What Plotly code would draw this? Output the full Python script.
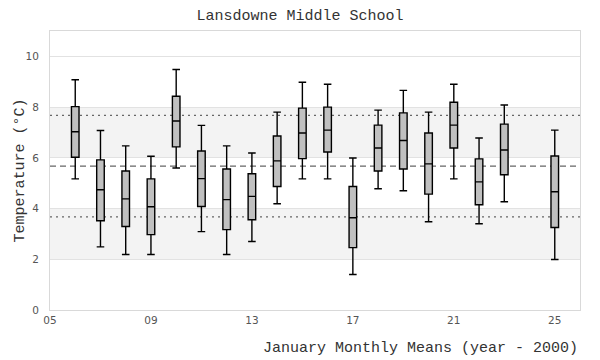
import plotly.graph_objects as go

years = [6, 7, 8, 9, 10, 11, 12, 13, 14, 15, 16, 17, 18, 19, 20, 21, 22, 23, 25]
upper = [9.08, 7.08, 6.47, 6.06, 9.48, 7.28, 6.47, 6.19, 7.80, 8.98, 8.90, 5.99, 7.88, 8.66, 7.80, 8.90, 6.78, 8.08, 7.09]
q3 = [8.02, 5.92, 5.48, 5.17, 8.43, 6.27, 5.56, 5.37, 6.86, 7.96, 8.00, 4.87, 7.29, 7.77, 6.98, 8.19, 5.96, 7.33, 6.07]
median = [7.03, 4.74, 4.38, 4.07, 7.45, 5.18, 4.35, 4.48, 5.88, 6.98, 7.09, 3.64, 6.39, 6.68, 5.76, 7.29, 5.05, 6.31, 4.66]
q1 = [6.02, 3.52, 3.29, 2.97, 6.43, 4.08, 3.17, 3.56, 4.87, 5.97, 6.23, 2.46, 5.48, 5.56, 4.57, 6.39, 4.15, 5.33, 3.25]
lower = [5.17, 2.49, 2.19, 2.19, 5.60, 3.09, 2.19, 2.70, 4.19, 5.17, 5.17, 1.40, 4.78, 4.70, 3.48, 5.17, 3.40, 4.27, 1.99]

overall_mean = 5.67
overall_std = 2.0
bands = [(2, 4), (6, 8)]

mono = "Liberation Mono"
sans = "DejaVu Sans"

fig = go.Figure()
fig.add_trace(go.Box(
    x=years, q1=q1, median=median, q3=q3,
    lowerfence=lower, upperfence=upper,
    boxpoints=False, width=0.3, whiskerwidth=1,
    fillcolor="#c0c0c0", line=dict(color="black", width=1.4),
    showlegend=False,
))

shapes = []
for lo, hi in bands:
    shapes.append(dict(type="rect", xref="paper", x0=0, x1=1, yref="y", y0=lo, y1=hi,
                       fillcolor="#f3f3f3", line=dict(width=0), layer="below"))
shapes.append(dict(type="line", xref="paper", x0=0, x1=1, yref="y",
                   y0=overall_mean, y1=overall_mean,
                   line=dict(color="#666666", width=1.3, dash="6px,4px"), layer="below"))
for s in (-1, 1):
    yv = overall_mean + s * overall_std
    shapes.append(dict(type="line", xref="paper", x0=0, x1=1, yref="y", y0=yv, y1=yv,
                       line=dict(color="#666666", width=1.3, dash="2px,4px"), layer="below"))

fig.update_layout(
    width=600, height=360,
    margin=dict(l=50, r=20, t=31, b=50),
    plot_bgcolor="white", paper_bgcolor="white",
    title=dict(text="Lansdowne Middle School", x=0.5, xanchor="center", y=1 - 15 / 360,
               yanchor="middle", font=dict(family=mono, size=15, color="#333333")),
    shapes=shapes,
    xaxis=dict(range=[5, 26], tick0=5, dtick=4, tickformat="02d", showgrid=False,
               zeroline=False, showline=True, mirror=True, linecolor="#d9d9d9", linewidth=1,
               ticks="", tickfont=dict(family=sans, size=10.5, color="#555555")),
    yaxis=dict(range=[0, 11], tickvals=[0, 2, 4, 6, 8, 10], showgrid=True, gridcolor="#e2e2e2",
               zeroline=False, showline=True, mirror=True, linecolor="#d9d9d9", linewidth=1,
               ticks="", ticklabelstandoff=8, tickfont=dict(family=sans, size=10.5, color="#555555")),
    annotations=[
        dict(text="Temperature (°C)", xref="paper", yref="paper", x=-30 / 530, y=0.5,
             xanchor="center", yanchor="middle", textangle=-90, showarrow=False,
             font=dict(family=mono, size=15, color="#333333")),
        dict(text="January Monthly Means (year - 2000)", xref="paper", yref="paper",
             x=1.0, y=-38 / 279, xanchor="right", yanchor="middle", showarrow=False,
             font=dict(family=mono, size=15, color="#333333")),
    ],
)

fig.write_html("out.html", config={"displayModeBar": False},
               post_script="document.body.style.margin='0';document.body.style.overflow='hidden';")
